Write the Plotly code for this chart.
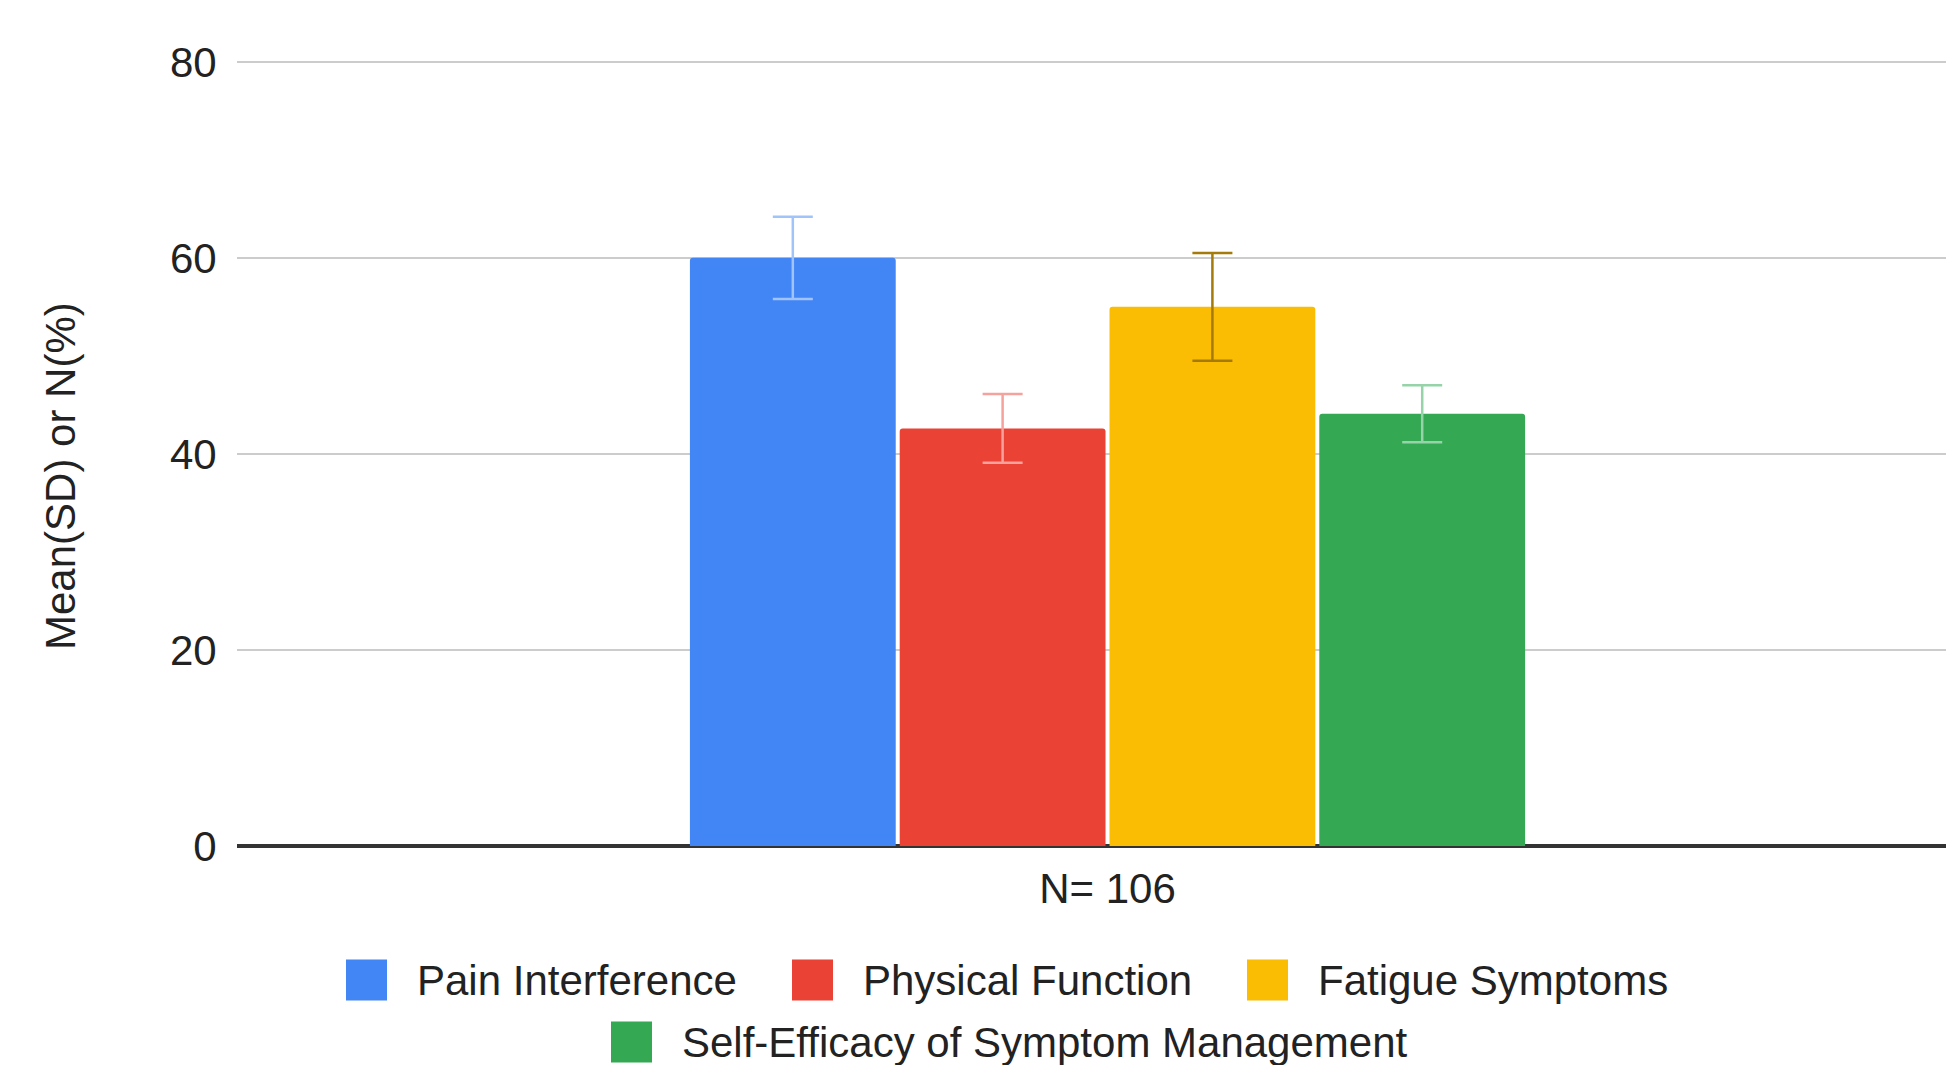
import plotly.graph_objects as go

# ---- data ----
categories = ["N= 106"]
series_names = ["Pain Interference", "Physical Function", "Fatigue Symptoms",
                "Self-Efficacy of Symptom Management"]
means = [60.0, 42.6, 55.0, 44.1]
sds = [4.2, 3.5, 5.5, 2.9]
y_ticks = [0, 20, 40, 60, 80]

# ---- styles ----
bar_colors = ["#4285F4", "#EA4335", "#FBBC04", "#34A853"]
err_colors = ["#A0C3FA", "#F4A29B", "#A47A0A", "#96D3A8"]
FONT = "Liberation Sans, Arial, sans-serif"
FS = 42

OFF = 8  # page body margin
W, H = 1954 - OFF, 1065 - OFF
YTOP = 81.0
PX_PER_UNIT = 9.8
ML, MR, MT, MB = 237 - OFF, 0, int(round(62 - OFF - (YTOP - 80) * PX_PER_UNIT)), 219
PW = W - ML - MR
PH = H - MT - MB

fig = go.Figure()
for name, m, sd, c, ec in zip(series_names, means, sds, bar_colors, err_colors):
    fig.add_trace(go.Bar(
        x=categories, y=[m], name=name,
        marker=dict(color=c, line=dict(width=0), cornerradius=3),
        error_y=dict(type="data", array=[sd], color=ec, thickness=2.5, width=20),
        showlegend=False,
    ))

# ---- custom legend (large swatches as in the reference) ----
legend_rows = [0, 0, 0, 1]
legend_swatch_px = [346, 792, 1247, 611]
row_center_px = [980, 1042]
SW = 41
shapes = []
annotations = []
for name, c, row, sx in zip(series_names, bar_colors, legend_rows, legend_swatch_px):
    cy = row_center_px[row] - OFF
    sxp = sx - OFF
    x0 = (sxp - ML) / PW
    x1 = (sxp + SW - ML) / PW
    y0 = (H - MB - (cy + SW / 2)) / PH
    y1 = (H - MB - (cy - SW / 2)) / PH
    shapes.append(dict(type="rect", xref="paper", yref="paper",
                       x0=x0, x1=x1, y0=y0, y1=y1,
                       fillcolor=c, line=dict(width=0), layer="above"))
    annotations.append(dict(text=name, xref="paper", yref="paper",
                            x=(sxp + SW + 28 - ML) / PW,
                            y=(H - MB - cy) / PH,
                            xanchor="left", yanchor="middle", showarrow=False,
                            font=dict(family=FONT, size=FS, color="#222222")))

# y-axis title
annotations.append(dict(text="Mean(SD) or N(%)", xref="paper", yref="paper",
                        x=(60 - OFF - ML) / PW, y=(H - MB - (476 - OFF)) / PH,
                        xanchor="center", yanchor="middle", textangle=-90,
                        showarrow=False,
                        font=dict(family=FONT, size=FS, color="#222222")))

fig.update_layout(
    width=W, height=H,
    margin=dict(l=ML, r=MR, t=MT, b=MB, pad=0),
    paper_bgcolor="white", plot_bgcolor="white",
    barmode="group", bargap=0.518, bargroupgap=0.019,
    font=dict(family=FONT, size=FS, color="#222222"),
    shapes=shapes, annotations=annotations,
    showlegend=False,
    xaxis=dict(type="category", range=[-0.5, 0.4862], showgrid=False,
               showline=False, zeroline=False,
               ticks="outside", ticklen=6, tickcolor="rgba(0,0,0,0)",
               tickfont=dict(family=FONT, size=FS, color="#222222")),
    yaxis=dict(range=[0, YTOP], tickvals=y_ticks, showgrid=True,
               gridcolor="#CCCCCC", gridwidth=2,
               zeroline=True, zerolinecolor="#333333", zerolinewidth=3.5,
               showline=False,
               ticks="outside", ticklen=11, tickcolor="rgba(0,0,0,0)",
               tickfont=dict(family=FONT, size=FS, color="#222222")),
)

fig.write_html("out.html")
